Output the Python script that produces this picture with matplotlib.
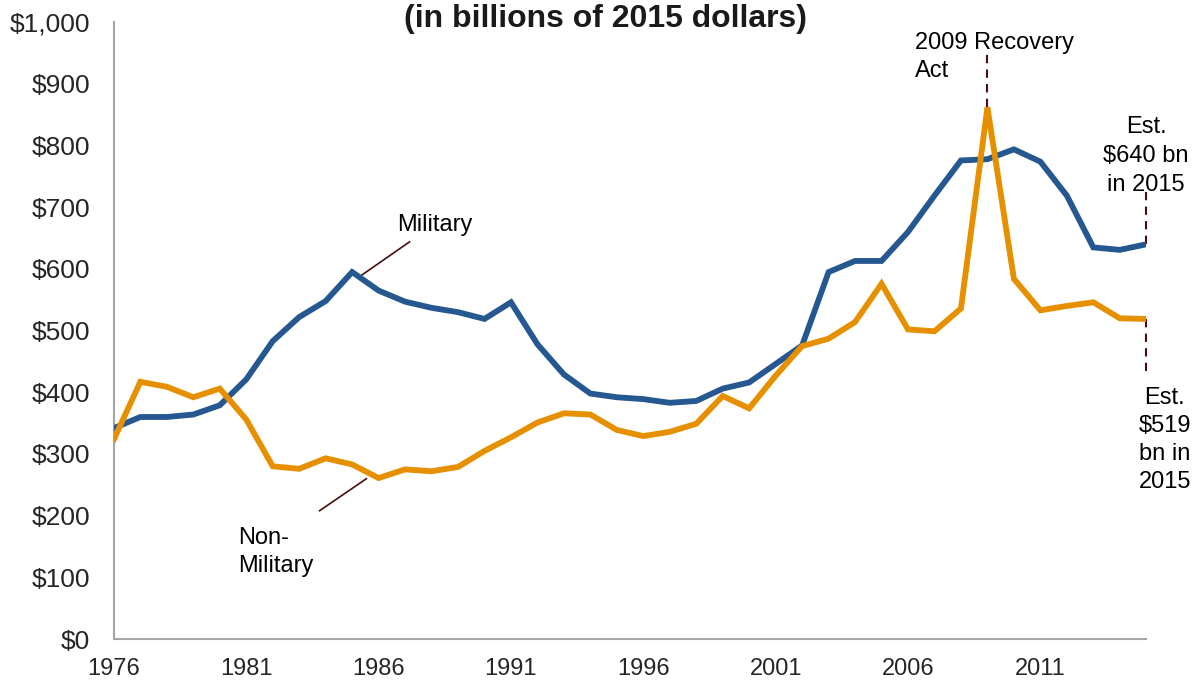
import numpy as np
import matplotlib
matplotlib.use("Agg")
import matplotlib.pyplot as plt
from matplotlib.ticker import FuncFormatter

plt.rcParams['font.family'] = ['Liberation Sans', 'DejaVu Sans']

# annual infrastructure spending, billions of 2015 dollars
years = np.arange(1976, 2016)
military = [342, 360, 360, 364, 379, 421, 483, 522, 548, 595,
            565, 547, 537, 530, 519, 546, 478, 429, 398, 392,
            389, 383, 386, 406, 416, 446, 476, 595, 613, 613,
            660, 719, 776, 778, 794, 774, 719, 635, 631, 640]
non_military = [324, 417, 409, 392, 406, 356, 280, 276, 293, 283,
                261, 275, 272, 279, 305, 327, 351, 366, 364, 339,
                329, 336, 349, 394, 374, 427, 475, 487, 514, 576,
                502, 499, 536, 862, 584, 533, 540, 546, 520, 519]
year_ticks = [1976, 1981, 1986, 1991, 1996, 2001, 2006, 2011]
value_ticks = [0, 100, 200, 300, 400, 500, 600, 700, 800, 900, 1000]

BLUE = '#255891'
ORANGE = '#e69000'
LEADER = '#4a0c0c'

fig = plt.figure(figsize=(11.99, 6.86), dpi=100)
ax = fig.add_axes([0.095, 0.0685, 0.861, 0.899])

ax.plot(years, military, color=BLUE, lw=4.2, solid_joinstyle='miter', zorder=3)
ax.plot(years, non_military, color=ORANGE, lw=4.2, solid_joinstyle='miter', zorder=3)

ax.set_xlim(1976, 2015)
ax.set_ylim(0, 1000)
ax.set_xticks(year_ticks)
ax.set_yticks(value_ticks)
ax.yaxis.set_major_formatter(FuncFormatter(lambda v, p: '${:,.0f}'.format(v)))
ax.tick_params(axis='y', length=0, pad=17, labelsize=19, labelcolor='#262626')
ax.tick_params(axis='x', length=0, pad=14, labelsize=17, labelcolor='#262626')
for s in ['top', 'right']:
    ax.spines[s].set_visible(False)
for s in ['left', 'bottom']:
    ax.spines[s].set_color('#a6a6a6')
    ax.spines[s].set_linewidth(1.5)

fig.text(0.505, 1 - 19 / 686, '(in billions of 2015 dollars)', ha='center', va='center',
         fontsize=23, fontweight='bold', color='#1a1a1a')

# series labels with leader lines
ax.plot([1987.17, 1985.36], [644, 590], color=LEADER, lw=1.2)
ax.text(1986.7, 672, 'Military', fontsize=17, ha='left', va='center')
ax.plot([1983.77, 1985.54], [208, 260], color=LEADER, lw=1.2)
ax.text(1980.7, 141, 'Non-\nMilitary', fontsize=17, ha='left', va='center',
        linespacing=1.35)

# 2009 stimulus spike
ax.plot([2009, 2009], [862, 950], color=LEADER, lw=1.5, ls=(0, (4, 3)), zorder=2)
ax.text(2006.25, 985, '2009 Recovery\nAct', fontsize=17, ha='left', va='top',
        linespacing=1.4)

# 2015 estimates
ax.plot([2015, 2015], [military[-1], 733], color=LEADER, lw=1.5, ls=(0, (4, 3)),
        clip_on=False, zorder=2)
ax.text(2015, 783, 'Est.\n$640 bn\nin 2015', fontsize=17, ha='center', va='center',
        linespacing=1.4)
ax.plot([2015, 2015], [non_military[-1], 432], color=LEADER, lw=1.5, ls=(0, (4, 3)),
        clip_on=False, zorder=2)
ax.text(2015.7, 323, 'Est.\n$519\nbn in\n2015', fontsize=17, ha='center', va='center',
        linespacing=1.35)

fig.savefig('out.png', dpi=100)
